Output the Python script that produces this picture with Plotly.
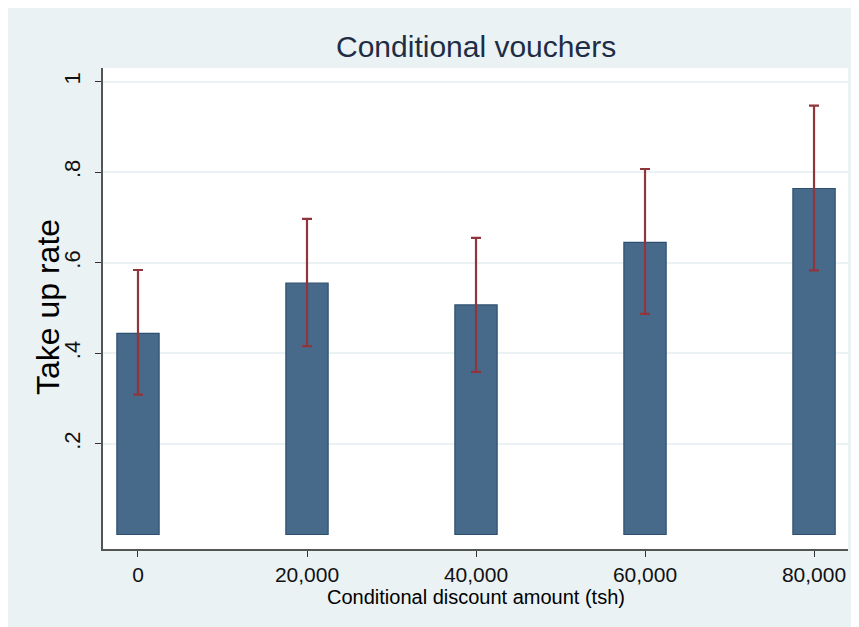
import plotly.graph_objects as go

amounts = [0, 20000, 40000, 60000, 80000]
take_up = [0.444, 0.555, 0.507, 0.645, 0.764]
ci_upper = [0.584, 0.697, 0.655, 0.807, 0.947]
ci_lower = [0.309, 0.416, 0.359, 0.487, 0.583]
x_tick_labels = ["0", "20,000", "40,000", "60,000", "80,000"]
y_tick_vals = [0.2, 0.4, 0.6, 0.8, 1.0]
y_tick_labels = [".2", ".4", ".6", ".8", "1"]

err_plus = [u - v for u, v in zip(ci_upper, take_up)]
err_minus = [v - l for v, l in zip(take_up, ci_lower)]

BG = "#EAF2F3"
FONT = "Liberation Sans, Arial, sans-serif"

# page body has an 8px margin; the figure sits at (8, 8) in the window
OFF = 8
WIN_W, WIN_H = 859, 627
W, H = WIN_W - OFF, WIN_H - OFF
# plot area in window pixels
PL, PR, PT, PB = 103, 848, 68, 549
L = PL - OFF
R = WIN_W - PR
T = PT - OFF
B = WIN_H - PB
pw = PR - PL
ph = PB - PT

def px_x(p):
    return (p - PL) / pw

def px_y(p):
    return (PB - p) / ph

fig = go.Figure()
fig.add_trace(go.Bar(
    x=amounts, y=take_up, width=5000,
    marker=dict(color="#486A8A", line=dict(color="#2E5070", width=1.2)),
    error_y=dict(type="data", symmetric=False, array=err_plus, arrayminus=err_minus,
                 color="#90353B", thickness=2.2, width=5),
    showlegend=False,
))

fig.update_layout(
    width=W, height=H,
    margin=dict(l=L, r=R, t=T, b=B),
    paper_bgcolor=BG, plot_bgcolor="white",
    font=dict(family=FONT, color="#000000"),
    xaxis=dict(range=[-4140, 84020], tickvals=amounts, ticktext=x_tick_labels,
               showgrid=False, zeroline=False, showline=True, linecolor="#555555",
               linewidth=1.5, ticks="outside", ticklen=6, tickcolor="#333333",
               tickfont=dict(size=21, family=FONT, color="#111111"), fixedrange=True),
    yaxis=dict(range=[-0.032, 1.03], tickvals=y_tick_vals, ticktext=y_tick_labels,
               tickangle=-90, showgrid=True, gridcolor=BG, gridwidth=1.5,
               zeroline=False, showline=True, linecolor="#555555", linewidth=1.5,
               ticks="outside", ticklen=6, tickcolor="#333333", ticklabelstandoff=6,
               tickfont=dict(size=22, family=FONT, color="#111111"), fixedrange=True),
    annotations=[
        dict(text="Conditional vouchers", x=px_x(476), y=px_y(46), xref="paper", yref="paper",
             showarrow=False, font=dict(size=30, family=FONT, color="#1E2D45"),
             xanchor="center", yanchor="middle"),
        dict(text="Take up rate", x=px_x(48), y=px_y(307), xref="paper", yref="paper",
             showarrow=False, textangle=-90, font=dict(size=32, family=FONT, color="#000000"),
             xanchor="center", yanchor="middle"),
        dict(text="Conditional discount amount (tsh)", x=px_x(476), y=px_y(597),
             xref="paper", yref="paper", showarrow=False,
             font=dict(size=20, family=FONT, color="#000000"),
             xanchor="center", yanchor="middle"),
    ],
)

fig.write_html("out.html")
